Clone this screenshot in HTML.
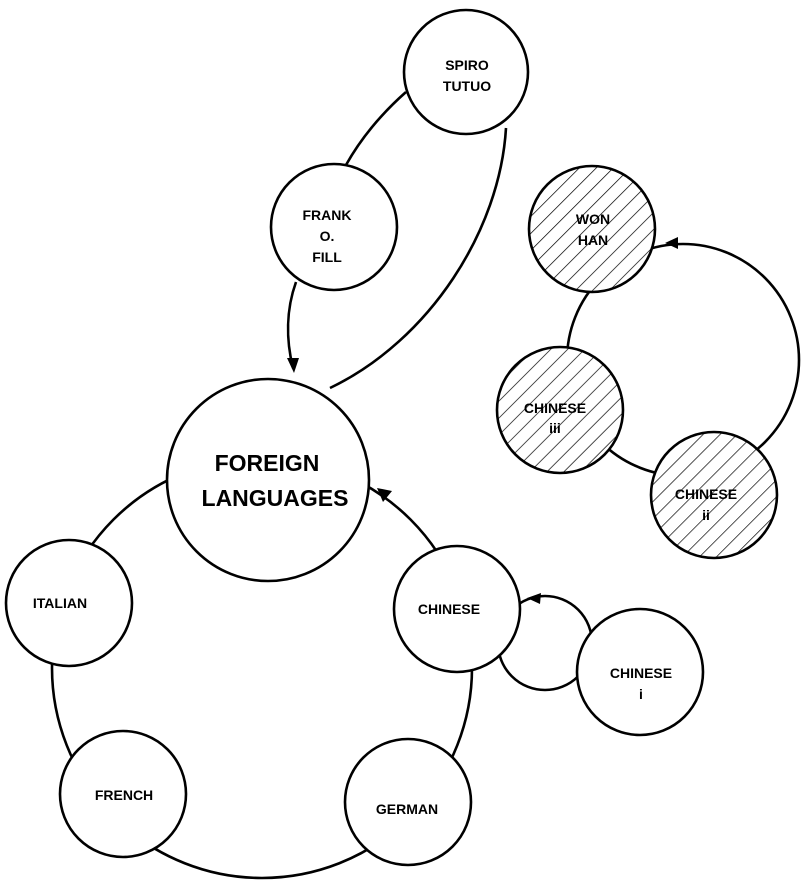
<!DOCTYPE html>
<html><head><style>
html,body{margin:0;padding:0;background:#fff;}
svg text{font-family:"Liberation Sans",sans-serif;font-weight:bold;fill:#000;text-anchor:middle;}
</style></head><body>
<svg width="808" height="884" viewBox="0 0 808 884" xmlns="http://www.w3.org/2000/svg">
<defs>
<pattern id="h" patternUnits="userSpaceOnUse" width="12" height="12" patternTransform="rotate(45)">
<rect width="12" height="12" fill="#fff"/>
<line x1="0" y1="0" x2="0" y2="12" stroke="#000" stroke-width="1.4"/>
</pattern>
</defs>
<g fill="none" stroke="#000" stroke-width="2.6">
<circle cx="262" cy="668" r="210"/>
<circle cx="545" cy="643" r="47"/>
<circle cx="683" cy="360" r="116"/>
<path d="M406,92 C380,115 360,140 346,165"/>
<path d="M296,282 C286,310 286,340 293,368"/>
<path d="M506,128 C500,230 430,340 330,388"/>
</g>
<polygon points="287,358 299,358 294,373" fill="#000"/>
<polygon points="377,488 392,491 383,502" fill="#000"/>
<polygon points="527,598 541,593 540,604" fill="#000"/>
<polygon points="665,243 678,237 678,249" fill="#000"/>
<g stroke="#000" stroke-width="2.6" fill="#fff">
<circle cx="466" cy="72" r="62"/>
<circle cx="334" cy="227" r="63"/>
<circle cx="268" cy="480" r="101"/>
<circle cx="69" cy="603" r="63"/>
<circle cx="457" cy="609" r="63"/>
<circle cx="640" cy="672" r="63"/>
<circle cx="123" cy="794" r="63"/>
<circle cx="408" cy="802" r="63"/>
<circle cx="592" cy="229" r="63" fill="url(#h)"/>
<circle cx="560" cy="410" r="63" fill="url(#h)"/>
<circle cx="714" cy="495" r="63" fill="url(#h)"/>
</g>
<g font-size="14">
<text x="467" y="70">SPIRO</text><text x="467" y="91">TUTUO</text>
<text x="327" y="220">FRANK</text><text x="327" y="241">O.</text><text x="327" y="262">FILL</text>
<text x="593" y="224">WON</text><text x="593" y="245">HAN</text>
<text x="555" y="413">CHINESE</text><text x="555" y="433">iii</text>
<text x="706" y="499">CHINESE</text><text x="706" y="520">ii</text>
<text x="60" y="608">ITALIAN</text>
<text x="449" y="614">CHINESE</text>
<text x="641" y="678">CHINESE</text><text x="641" y="699">i</text>
<text x="124" y="800">FRENCH</text>
<text x="407" y="814">GERMAN</text>
</g>
<g font-size="23">
<text x="267" y="471">FOREIGN</text><text x="275" y="506">LANGUAGES</text>
</g>
</svg>
</body></html>
